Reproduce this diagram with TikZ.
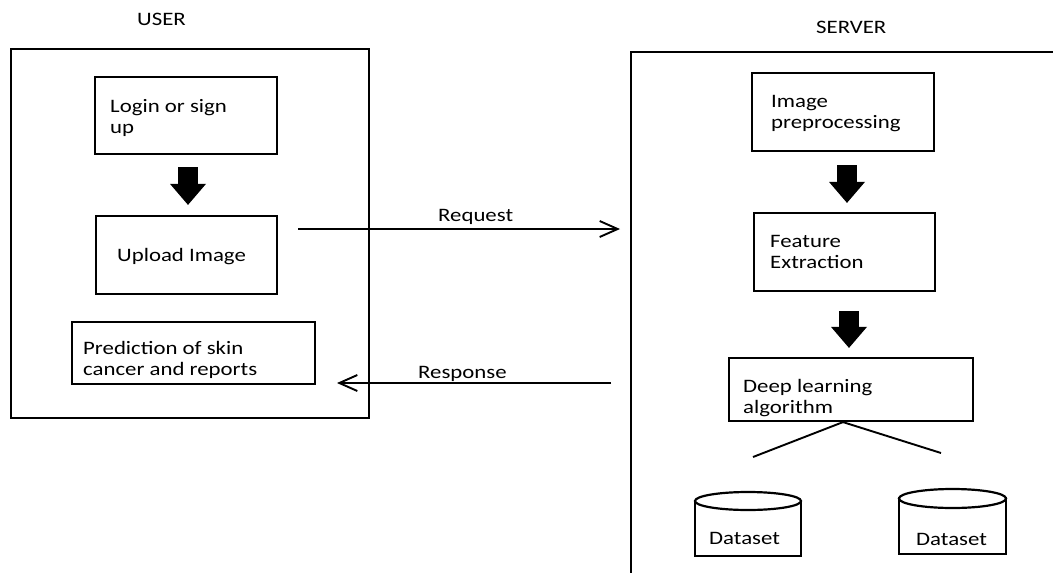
\documentclass[tikz,border=0pt]{standalone}
\usepackage{fontspec}
\setmainfont{Carlito}[FakeStretch=1.2]
\usetikzlibrary{arrows.meta,calc,shapes.geometric}
\begin{document}
\begin{tikzpicture}[x=1pt,y=-1pt,
  font=\fontsize{19}{21}\selectfont,
  frame/.style={draw,line width=2.8pt,inner sep=0pt},
  box/.style={draw,line width=2.2pt,inner sep=0pt},
  txt/.style={anchor=base west,inner sep=0pt,align=left},
  block/.style={line width=20pt,-{Triangle[length=21pt,width=36pt,line width=0pt]}},
  conn/.style={line width=1.9pt,-{Straight Barb[length=18pt,width=16pt]}},
  link/.style={line width=1.9pt},
  dsbody/.style={draw,line width=2.2pt,inner sep=0pt},
  dstop/.style={draw,ellipse,line width=2.2pt,inner sep=0pt,fill=white}
]
\useasboundingbox (0,0) rectangle (1053,573);
\clip (0,0) rectangle (1053,573);

% USER side
\node[txt] (usrlbl) at (137,25) {USER};
\node[frame,minimum width=358pt,minimum height=369pt] (user) at (190,233.5) {};
\node[box,minimum width=182pt,minimum height=77pt] (login) at (186,115.5) {};
\node[txt] (logint) at (110,133) {Login or sign\\up};
\node[box,minimum width=181pt,minimum height=78pt] (upload) at (186.5,255) {};
\node[txt] (uploadt) at (117,261) {Upload Image};
\node[box,minimum width=243pt,minimum height=62pt] (predict) at (193.5,353) {};
\node[txt] (predictt) at (83,375) {Prediction of skin\\cancer and reports};

% SERVER side
\node[txt] (srvlbl) at (816,33) {SERVER};
\node[frame,minimum width=449pt,minimum height=568pt] (server) at (855.5,336) {};
\node[box,minimum width=182pt,minimum height=78pt] (prep) at (843,112) {};
\node[txt] (prept) at (771,128) {Image\\preprocessing};
\node[box,minimum width=181pt,minimum height=78pt] (feat) at (844.5,252) {};
\node[txt] (featt) at (770,268) {Feature\\Extraction};
\node[box,minimum width=244pt,minimum height=63pt] (deep) at (851,389.5) {};
\node[txt] (deept) at (743,413) {Deep learning\\algorithm};

% datasets
\node[dsbody,minimum width=106pt,minimum height=55pt] (ds1) at (748,528.5) {};
\node[dstop,minimum width=106pt,minimum height=18pt] (ds1top) at (748,501) {};
\node[txt] (ds1t) at (709,544) {Dataset};
\node[dsbody,minimum width=107pt,minimum height=55.5pt] (ds2) at (952.5,526.25) {};
\node[dstop,minimum width=107pt,minimum height=19pt] (ds2top) at (952.5,498.5) {};
\node[txt] (ds2t) at (916,545) {Dataset};

% block arrows
\draw[block] ($(login.south)+(2,12)$) -- ($(upload.north)+(1.5,-10)$);
\draw[block] ($(prep.south)+(4,13)$) -- ($(feat.north)+(2.5,-9)$);
\draw[block] ($(feat.south)+(4.5,19)$) -- ($(deep.north)+(-2,-9)$);

% request / response
\coordinate (reqA) at (298,229);
\coordinate (reqB) at (620,229);
\draw[conn] (reqA) -- (reqB);
\node[txt] (reqt) at (438,221) {Request};
\coordinate (resA) at (611,383);
\coordinate (resB) at (337,383);
\draw[conn] (resA) -- (resB);
\node[txt] (rest) at (418,378) {Response};

% links to datasets
\coordinate (l1) at (753,457);
\coordinate (l2) at (941,453);
\draw[link] ($(deep.south)+(-8,0)$) -- (l1);
\draw[link] ($(deep.south)+(-8,0)$) -- (l2);
\end{tikzpicture}
\end{document}
